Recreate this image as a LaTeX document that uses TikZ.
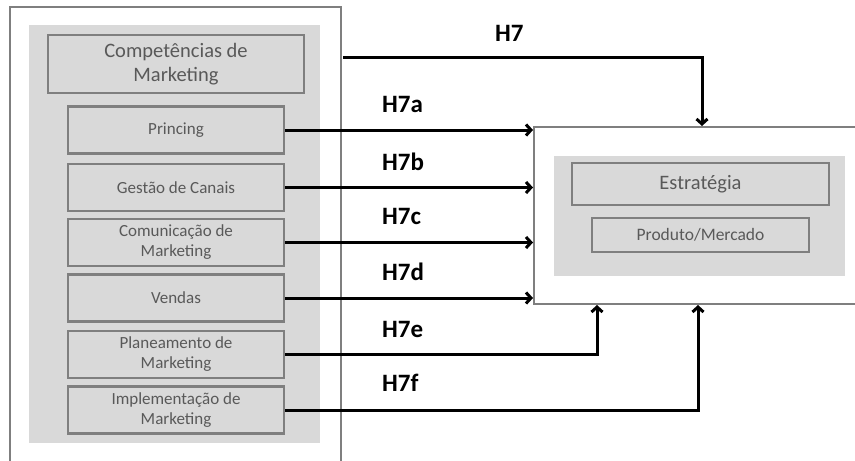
\documentclass[tikz,border=0pt]{standalone}
\usepackage{fontspec}
\setmainfont{Carlito}
\usetikzlibrary{arrows.meta}
\definecolor{boxline}{HTML}{7F7F7F}
\definecolor{panel}{HTML}{D9D9D9}
\definecolor{boxtext}{HTML}{595959}
\begin{document}
\begin{tikzpicture}[x=1pt,y=-1pt,
  frame/.style={draw=boxline, line width=2pt, fill=white},
  panelbg/.style={fill=panel, draw=none},
  sub/.style={draw=boxline, line width=2.5pt, fill=panel, text=boxtext, align=center,
    font=\fontsize{17}{20}\selectfont, inner sep=0pt},
  conn/.style={line width=3pt, -{Straight Barb[length=5pt,width=11pt]}},
  hlab/.style={font=\fontsize{25}{28}\selectfont\bfseries, anchor=west, inner sep=0pt}]
\useasboundingbox (0,0) rectangle (855,461);

% left group
\node[frame, minimum width=331, minimum height=473] (lbox) at (175.5,243.5) {};
\node[panelbg, minimum width=291, minimum height=418] (lpanel) at (174.5,234) {};
\node[sub, minimum width=256, minimum height=58, font=\fontsize{20.5}{24}\selectfont]
  (comp) at (176,64) {Competências de\\Marketing};
\foreach \n/\y/\t in {pr/130/Princing, gc/187.5/Gestão de Canais,
    cm/242.5/{Comunicação de\\Marketing}, vd/298/Vendas,
    pl/354.5/{Planeamento de\\Marketing}, im/410/{Implementação de\\Marketing}}
  \node[sub, minimum width=216, minimum height=47] (\n) at (176,\y) {\t};

% right group
\node[frame, minimum width=336, minimum height=177] (strat) at (702,215.5) {};
\node[panelbg, minimum width=291, minimum height=120] (rpanel) at (699.5,216) {};
\node[sub, minimum width=257, minimum height=42, font=\fontsize{20.5}{24}\selectfont]
  (est) at (700.5,184) {Estratégia};
\node[sub, minimum width=217, minimum height=34, font=\fontsize{17.5}{20}\selectfont]
  (pm) at (700.5,235) {Produto/Mercado};

% hypotheses
\coordinate (lx) at (382,0);
\coordinate (h7s) at (343,57);
\draw[conn] (h7s) -| (strat.north);
\node[hlab] (h7) at (495,33) {H7};
\foreach \n/\l in {pr/a,gc/b,cm/c,vd/d}{
  \draw[conn] (\n.east) -- (\n.east -| strat.west);
  \node[hlab] (h7\l) at ([yshift=26pt]lx |- \n.east) {H7\l};
}
\draw[conn] (pl.east) -| ([xshift=-105pt]strat.south);
\node[hlab] (h7e) at ([yshift=25pt]lx |- pl.east) {H7e};
\draw[conn] (im.east) -| ([xshift=-4pt]strat.south);
\node[hlab] (h7f) at ([yshift=27pt]lx |- im.east) {H7f};
\end{tikzpicture}
\end{document}
